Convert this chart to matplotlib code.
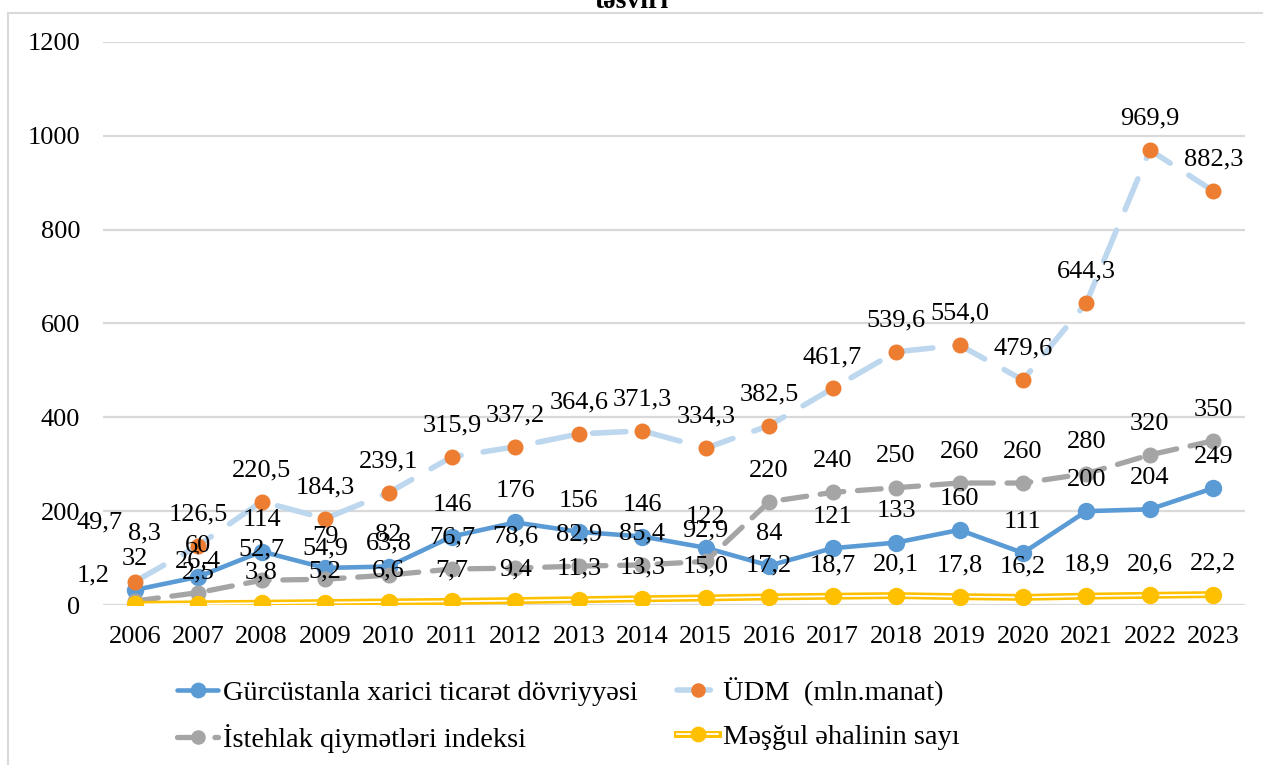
import matplotlib
matplotlib.use("Agg")
import matplotlib.pyplot as plt
import matplotlib.patheffects as pe
from matplotlib.patches import Rectangle
from matplotlib.legend_handler import HandlerTuple

plt.rcParams['font.family'] = ['Liberation Serif', 'DejaVu Serif']

years = [str(y) for y in range(2006, 2024)]

# Gürcüstanla xarici ticarət dövriyyəsi
trade = [32, 60, 114, 79, 82, 146, 176, 156, 146, 122, 84, 121, 133, 160, 111, 200, 204, 249]
trade_lbl = [str(v) for v in trade]

# ÜDM (mln.manat)
gdp = [49.7, 126.5, 220.5, 184.3, 239.1, 315.9, 337.2, 364.6, 371.3, 334.3, 382.5,
       461.7, 539.6, 554.0, 479.6, 644.3, 969.9, 882.3]
gdp_lbl = ['49,7', '126,5', '220,5', '184,3', '239,1', '315,9', '337,2', '364,6', '371,3',
           '334,3', '382,5', '461,7', '539,6', '554,0', '479,6', '644,3', '969,9', '882,3']

# İstehlak qiymətləri indeksi
cpi = [8.3, 26.4, 52.7, 54.9, 63.8, 76.7, 78.6, 82.9, 85.4, 92.9, 220, 240, 250, 260,
       260, 280, 320, 350]
cpi_lbl = ['8,3', '26,4', '52,7', '54,9', '63,8', '76,7', '78,6', '82,9', '85,4', '92,9',
           '220', '240', '250', '260', '260', '280', '320', '350']

# Məşğul əhalinin sayı
emp = [1.2, 2.5, 3.8, 5.2, 6.6, 7.7, 9.4, 11.3, 13.3, 15.0, 17.2, 18.7, 20.1, 17.8,
       16.2, 18.9, 20.6, 22.2]
emp_lbl = ['1,2', '2,5', '3,8', '5,2', '6,6', '7,7', '9,4', '11,3', '13,3', '15,0', '17,2',
           '18,7', '20,1', '17,8', '16,2', '18,9', '20,6', '22,2']

W, H = 1263, 765
fig = plt.figure(figsize=(W / 100, H / 100), dpi=100)
ax = fig.add_axes([103 / W, (H - 605) / H, (1245 - 103) / W, (605 - 42) / H])

x = list(range(len(years)))

blue = '#5B9BD5'
orange = '#ED7D31'
lblue = '#BDD7EE'
gray = '#A5A5A5'
yellow = '#FFC000'

l1, = ax.plot(x, trade, color=blue, lw=3.3, marker='o', ms=11.5, mfc=blue, mec=blue,
              zorder=3, solid_capstyle='round')
l2, = ax.plot(x, gdp, color=lblue, lw=4.0, ls=(0, (6, 4)), marker='o', ms=10.5,
              mfc=orange, mec=orange, zorder=4, dash_capstyle='round')
l3, = ax.plot(x, cpi, color=gray, lw=3.8, ls=(0, (4.5, 2.6)), marker='o', ms=10.5,
              mfc=gray, mec=gray, zorder=5, dash_capstyle='round')
l4, = ax.plot(x, emp, color='white', lw=1.3, zorder=6,
              path_effects=[pe.Stroke(linewidth=5.0, foreground=yellow), pe.Normal()])
l4m, = ax.plot(x, emp, ls='none', marker='o', ms=11.5, mfc=yellow, mec=yellow, zorder=7)

ax.set_xlim(-0.5, len(years) - 0.5)
ax.set_ylim(0, 1200)
ax.set_yticks(range(0, 1201, 200))
ax.set_xticks(x)
ax.set_xticklabels(years)
ax.tick_params(axis='both', length=0, labelsize=19, colors='black')
ax.tick_params(axis='y', pad=16.5)
ax.tick_params(axis='x', pad=15)
ax.grid(axis='y', color='#D9D9D9', lw=1.6)
ax.set_axisbelow(True)
for s in ax.spines.values():
    s.set_visible(False)

# data labels, above each point; a few moved by hand as in the source
special = {('gdp', 0): (-25, 43), ('cpi', 0): (7, 49), ('emp', 0): (-30, 21)}
for name, vals, lbls in [('trade', trade, trade_lbl), ('gdp', gdp, gdp_lbl),
                         ('cpi', cpi, cpi_lbl), ('emp', emp, emp_lbl)]:
    for i, (v, t) in enumerate(zip(vals, lbls)):
        off = special.get((name, i), (0, 22.5))
        ax.annotate(t, (i, v), xytext=off, textcoords='offset points', ha='center',
                    va='center', fontsize=19, zorder=10, annotation_clip=False)

handles = [l1, l3, l2, (l4, l4m)]
labels = ['Gürcüstanla xarici ticarət dövriyyəsi', 'İstehlak qiymətləri indeksi',
          'ÜDM  (mln.manat)', 'Məşğul əhalinin sayı']
fig.legend(handles, labels, ncol=2, loc='center left',
           bbox_to_anchor=(177 / W, 1 - 715 / H), frameon=False, fontsize=20.5,
           borderpad=0, borderaxespad=0, markerscale=0.9,
           handlelength=1.45, handletextpad=0.15, columnspacing=1.4, labelspacing=0.65,
           handler_map={tuple: HandlerTuple(ndivide=1, pad=0)})

# chart border and cut-off title
fig.patches.append(Rectangle((8 / W, -0.1), 2, 1.1 - 13 / H, transform=fig.transFigure,
                             fill=False, ec='#D9D9D9', lw=1.5))
fig.text(632 / W, 1 - 8 / H, 'təsviri', ha='center', va='baseline', fontsize=20,
         fontweight='bold')

fig.savefig('out.png', dpi=100)
